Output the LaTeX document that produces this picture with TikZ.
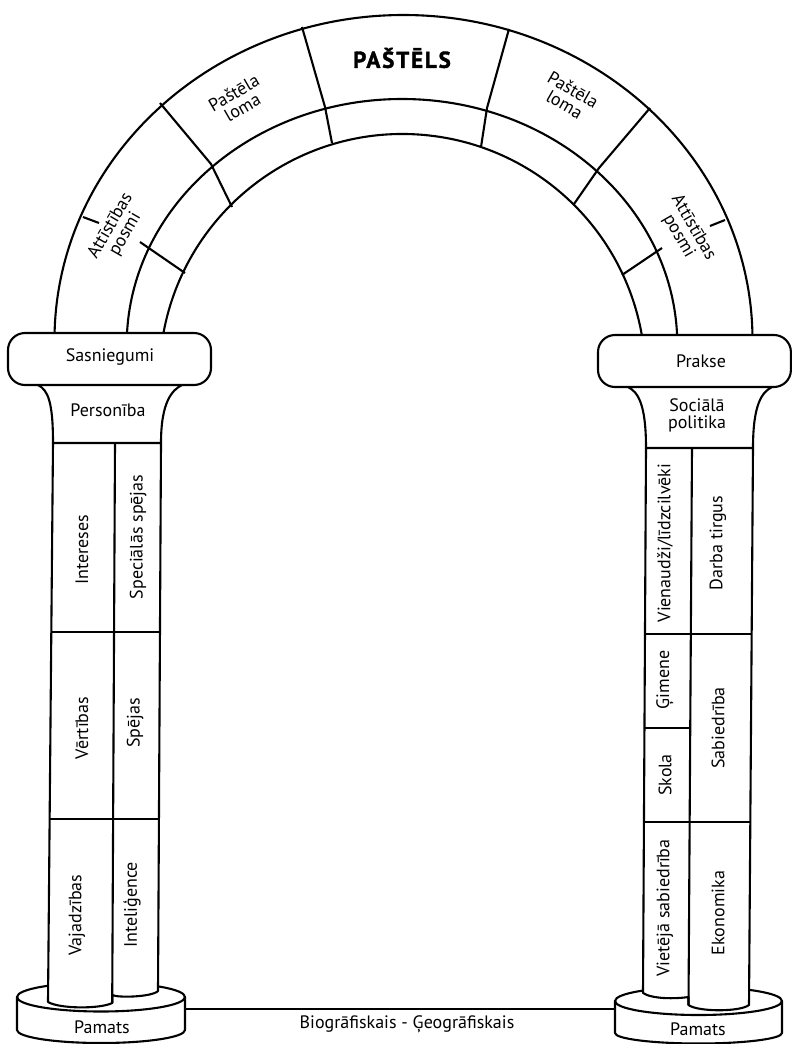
\documentclass[tikz,border=0pt]{standalone}
\usepackage{fontspec}
\setmainfont{PT Sans}
\begin{document}
\begin{tikzpicture}[x=1pt,y=-1pt,
  ln/.style={line width=2.1pt, line join=round},
  lbl/.style={font=\fontsize{18}{17}\selectfont, align=center, inner sep=0pt},
  vlbl/.style={lbl, rotate=90},
  ttl/.style={font=\bfseries\fontsize{23}{23}\selectfont\addfontfeatures{LetterSpace=8,FakeBold=1.5}, inner sep=0pt}]
\useasboundingbox (0,0) rectangle (792,1044);
% ---------- arch ----------
\draw[ln] (54.5,340) arc[start angle=180, end angle=360, x radius=349, y radius=325];
\draw[ln] (126.7,345) arc[start angle=180, end angle=360, x radius=275.3, y radius=246];
\draw[ln] (160.8,351.6) arc[start angle=186, end angle=354, radius=243];
% radial dividers
\draw[ln] (302,27) -- (325,107) -- (332,143);
\draw[ln] (509,29) -- (487,108) -- (481,147);
\draw[ln] (160,103) -- (211,164) -- (232,207);
\draw[ln] (650,108) -- (599,168) -- (574,204);
% ticks
\draw[ln] (83,217) -- (99,223);
\draw[ln] (140,242) -- (185,273);
\draw[ln] (725,220) -- (710,226);
\draw[ln] (662,248) -- (622,275);
% arch labels
\node[ttl] (title) at (402,58) {PAŠTĒLS};
\node[lbl, rotate=30] (rolL) at (238,100) {Paštēla\\loma};
\node[lbl, rotate=-30] (rolR) at (569,97) {Paštēla\\loma};
\node[lbl, rotate=60] (devL) at (118,230) {Attīstības\\posmi};
\node[lbl, rotate=-60] (devR) at (686,232) {Attīstības\\posmi};
% ---------- bases ----------
\draw[ln, fill=white] (17,997) -- (17,1030) arc[start angle=180, end angle=0, x radius=84, y radius=13] -- (185,997);
\draw[ln, fill=white] (101,997) ellipse[x radius=84, y radius=14.5];
\draw[ln, fill=white] (615,1001) -- (615,1033) arc[start angle=180, end angle=0, x radius=83.5, y radius=10.5] -- (782,1001);
\draw[ln, fill=white] (698.5,1001) ellipse[x radius=83.5, y radius=14];
\coordinate (lb) at (185,1009);
\coordinate (rb) at (615,1009);
\draw[ln] (lb) -- (rb);
\node[lbl] (pamL) at (102,1027) {Pamats};
\node[lbl] (pamR) at (698,1029) {Pamats};
\node[lbl] (bio) at (407,1024) {Biogrāfiskais - Ģeogrāfiskais};
% ---------- left column ----------
\draw[ln, fill=white] (53,443) -- (161,443) -- (158,991)
  .. controls (152,997) and (118,998) .. (112.2,995) -- (112.2,1003)
  .. controls (100,1009) and (60,1009) .. (48,1002) -- cycle;
\draw[ln] (115,443) -- (112.2,1003);
\draw[ln] (51.3,632) -- (160,632);
\draw[ln] (49.6,819) -- (158.9,819);
% capital + flares
\draw[ln, fill=white, rounded corners=17] (8,333) rectangle (211,385);
\draw[ln] (38,385) .. controls (48,390) and (53,402) .. (53,443);
\draw[ln] (182,385) .. controls (172,390) and (161,402) .. (161,443);
\node[lbl] (sas) at (110,357) {Sasniegumi};
\node[lbl] (per) at (108,410) {Personība};
\node[vlbl] (int) at (82,550) {Intereses};
\node[vlbl] (spc) at (138,537) {Speciālās spējas};
\node[vlbl] (ver) at (82,728) {Vērtības};
\node[vlbl] (spe) at (135,723) {Spējas};
\node[vlbl] (vaj) at (77,915) {Vajadzības};
\node[vlbl] (inl) at (132,905) {Inteliģence};
% ---------- right column ----------
\draw[ln, fill=white] (646,448) -- (753,448) -- (749,1005)
  .. controls (740,1012) and (698,1012) .. (688.5,1005) -- (688.5,997)
  .. controls (675,999) and (652,999) .. (643,993) -- cycle;
\draw[ln] (692,448) -- (688.5,1005);
\draw[ln] (645,634) -- (751.7,634);
\draw[ln] (644.5,728) -- (690.5,728);
\draw[ln] (644,822) -- (750.3,822);
\draw[ln, fill=white, rounded corners=17] (598,335) rectangle (790.9,387);
\draw[ln] (628,387) .. controls (638,392) and (646,404) .. (646,448);
\draw[ln] (772,387) .. controls (762,392) and (753,404) .. (753,448);
\node[lbl] (pra) at (701,361) {Prakse};
\node[lbl] (soc) at (697,415) {Sociālā\\politika};
\node[vlbl] (vie) at (665,543) {Vienaudži/līdzcilvēki};
\node[vlbl] (dar) at (718,543) {Darba tirgus};
\node[vlbl] (gim) at (665,680) {Ģimene};
\node[vlbl] (sko) at (665,775) {Skola};
\node[vlbl] (sab) at (718,728) {Sabiedrība};
\node[vlbl] (vsb) at (665,908) {Vietējā sabiedrība};
\node[vlbl] (eko) at (718,913) {Ekonomika};
\end{tikzpicture}
\end{document}
